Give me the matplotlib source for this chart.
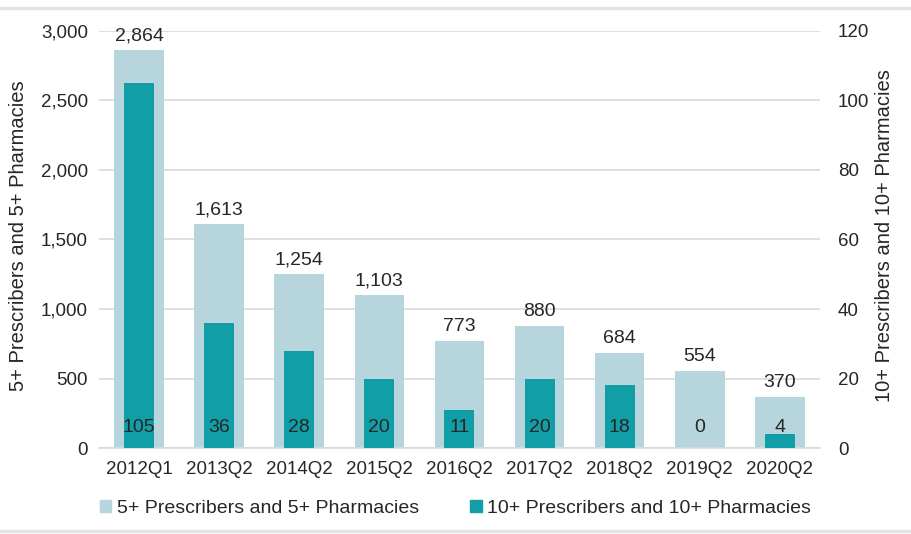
import matplotlib.pyplot as plt
from matplotlib.lines import Line2D
from matplotlib.patches import Patch

# data
quarters = ['2012Q1', '2013Q2', '2014Q2', '2015Q2', '2016Q2', '2017Q2', '2018Q2', '2019Q2', '2020Q2']
five_plus = [2864, 1613, 1254, 1103, 773, 880, 684, 554, 370]
ten_plus = [105, 36, 28, 20, 11, 20, 18, 0, 4]

light = '#b7d5dc'
teal = '#119ea6'
text_color = '#262626'
grid_color = '#d9d9d9'

plt.rcParams['font.family'] = ['Liberation Sans', 'DejaVu Sans']
plt.rcParams['font.size'] = 13.5

fig = plt.figure(figsize=(9.11, 5.34), dpi=100)
ax = fig.add_axes([0.1087, 0.161, 0.7913, 0.781])
ax2 = ax.twinx()

x = list(range(len(quarters)))

ax.bar(x, five_plus, width=0.62, color=light, zorder=2)
ax2.bar(x, ten_plus, width=0.375, color=teal, zorder=2)

ax.set_ylim(0, 3000)
ax2.set_ylim(0, 120)
ax.set_xlim(-0.5, len(quarters) - 0.5)

ax.set_yticks(range(0, 3001, 500))
ax.set_yticklabels([f'{v:,}' for v in range(0, 3001, 500)])
ax2.set_yticks(range(0, 121, 20))
ax.set_xticks(x)
ax.set_xticklabels(quarters)

ax.grid(axis='y', color=grid_color, linewidth=1.2, zorder=0)
ax.set_axisbelow(True)

for a in (ax, ax2):
    for s in a.spines.values():
        s.set_visible(False)
    a.tick_params(length=0, colors=text_color, labelsize=13.5)
ax.tick_params(axis='y', pad=8)
ax2.tick_params(axis='y', pad=13)
ax.tick_params(axis='x', pad=9)
ax.spines['bottom'].set_visible(True)
ax.spines['bottom'].set_color(grid_color)
ax.spines['bottom'].set_linewidth(1.2)

ax.set_ylabel('5+ Prescribers and 5+ Pharmacies', fontsize=14.5, color=text_color)
ax2.set_ylabel('10+ Prescribers and 10+ Pharmacies', fontsize=14.5, color=text_color)
ax.yaxis.set_label_coords(-0.112, 0.51)
ax2.yaxis.set_label_coords(1.090, 0.51)
ax.yaxis.label.set_va('center')
ax2.yaxis.label.set_va('center')

# value labels
for xi, v in zip(x, five_plus):
    ax.annotate(f'{v:,}', (xi, v), xytext=(0, 4), textcoords='offset points',
                ha='center', va='bottom', fontsize=14, color=text_color)
for xi, v in zip(x, ten_plus):
    ax2.text(xi, 5.8, f'{v}', ha='center', va='center', fontsize=14, color=text_color, zorder=3)

# legend
handles = [Patch(color=light), Patch(color=teal)]
fig.legend(handles, ['5+ Prescribers and 5+ Pharmacies', '10+ Prescribers and 10+ Pharmacies'],
           loc='center', bbox_to_anchor=(0.5, 0.048), ncol=2, frameon=False, fontsize=14,
           handlelength=0.6, handleheight=0.6, handletextpad=0.3, columnspacing=2.6,
           labelcolor=text_color)

# separators at top and bottom of figure
fig.add_artist(Line2D([0, 1], [0.985, 0.985], color='#e3e3e3', linewidth=2.5, transform=fig.transFigure))
fig.add_artist(Line2D([0, 1], [0.006, 0.006], color='#e3e3e3', linewidth=2.5, transform=fig.transFigure))

fig.savefig('out.png', dpi=100)
